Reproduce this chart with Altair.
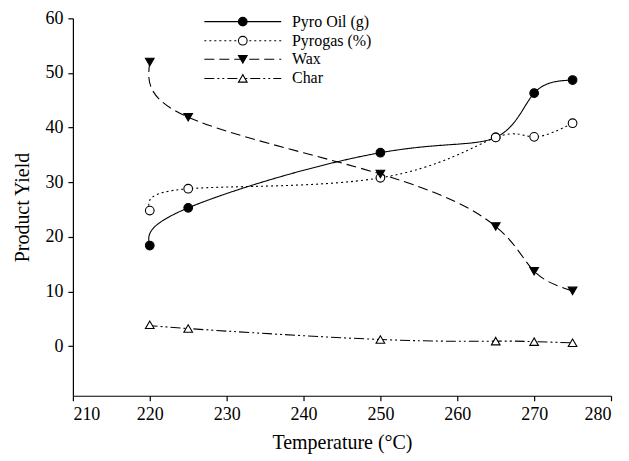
import altair as alt
import pandas as pd

temps = [220, 225, 250, 265, 270, 275]
pyro_oil = [18.4, 25.3, 35.4, 38.2, 46.3, 48.7]
pyrogas = [24.8, 28.8, 30.8, 38.2, 38.3, 40.8]
wax = [52.0, 41.9, 31.5, 21.9, 13.7, 10.1]
char = [3.9, 3.2, 1.2, 0.9, 0.8, 0.6]

series_names = ["Pyro Oil (g)", "Pyrogas (%)", "Wax", "Char"]
series_values = [pyro_oil, pyrogas, wax, char]
dashes = [[1, 0], [2, 3], [10, 5], [10, 3, 2, 3, 2, 3]]
shapes = ["circle", "circle", "triangle-down", "triangle-up"]
fills = ["black", "white", "black", "white"]

# legend placement (data coordinates)
leg_x0, leg_xm, leg_x1, leg_xt = 227.1, 232.1, 237.1, 238.5
leg_y = [59.4, 55.9, 52.5, 49.0]

FONT = "Liberation Serif"

x_scale = alt.Scale(domain=[210, 280], nice=False, zero=False)
y_scale = alt.Scale(domain=[-9.1, 60], nice=False, zero=False)

axis_style = dict(
    grid=False, domainColor="black", tickColor="black", labelColor="black",
    titleColor="black", labelFont=FONT, titleFont=FONT, labelFontSize=18,
    titleFontSize=20, titleFontWeight="normal", tickSize=5, labelPadding=5,
    domainWidth=1.2, tickWidth=1.2,
)

x_axis = alt.Axis(values=list(range(210, 290, 10)), title="Temperature (°C)",
                  titlePadding=9, **axis_style)
y_axis = alt.Axis(values=list(range(0, 70, 10)), title="Product Yield",
                  titlePadding=12, **axis_style)

layers = []
for i, name in enumerate(series_names):
    df = pd.DataFrame({"T": temps, "Y": series_values[i]})
    base = alt.Chart(df)
    xa = alt.X("T:Q", scale=x_scale, axis=x_axis)
    ya = alt.Y("Y:Q", scale=y_scale, axis=y_axis)
    line = base.mark_line(color="black", strokeWidth=1.1, strokeDash=dashes[i],
                          interpolate="natural").encode(x=xa, y=ya)
    pts = base.mark_point(shape=shapes[i], filled=True, fill=fills[i], stroke="black",
                          strokeWidth=1.1, size=75, opacity=1).encode(x=xa, y=ya)
    layers += [line, pts]

    # legend entry
    ldf = pd.DataFrame({"T": [leg_x0, leg_x1], "Y": [leg_y[i], leg_y[i]]})
    layers.append(alt.Chart(ldf).mark_line(color="black", strokeWidth=1.1,
                                           strokeDash=dashes[i]).encode(x="T:Q", y="Y:Q"))
    mdf = pd.DataFrame({"T": [leg_xm], "Y": [leg_y[i]]})
    layers.append(alt.Chart(mdf).mark_point(shape=shapes[i], filled=True, fill=fills[i],
                                            stroke="black", strokeWidth=1.1, size=75,
                                            opacity=1).encode(x="T:Q", y="Y:Q"))
    tdf = pd.DataFrame({"T": [leg_xt], "Y": [leg_y[i]], "label": [name]})
    layers.append(alt.Chart(tdf).mark_text(align="left", baseline="middle", font=FONT,
                                           fontSize=16, color="black")
                  .encode(x="T:Q", y="Y:Q", text="label:N"))

chart = alt.layer(*layers).properties(
    width=539, height=378,
    autosize=alt.AutoSizeParams(type="none"),
    padding={"left": 65, "top": 10, "right": 10, "bottom": 62},
).configure(font=FONT).configure_view(stroke=None)

chart.save("out.html", embed_options={"renderer": "svg", "actions": False})
